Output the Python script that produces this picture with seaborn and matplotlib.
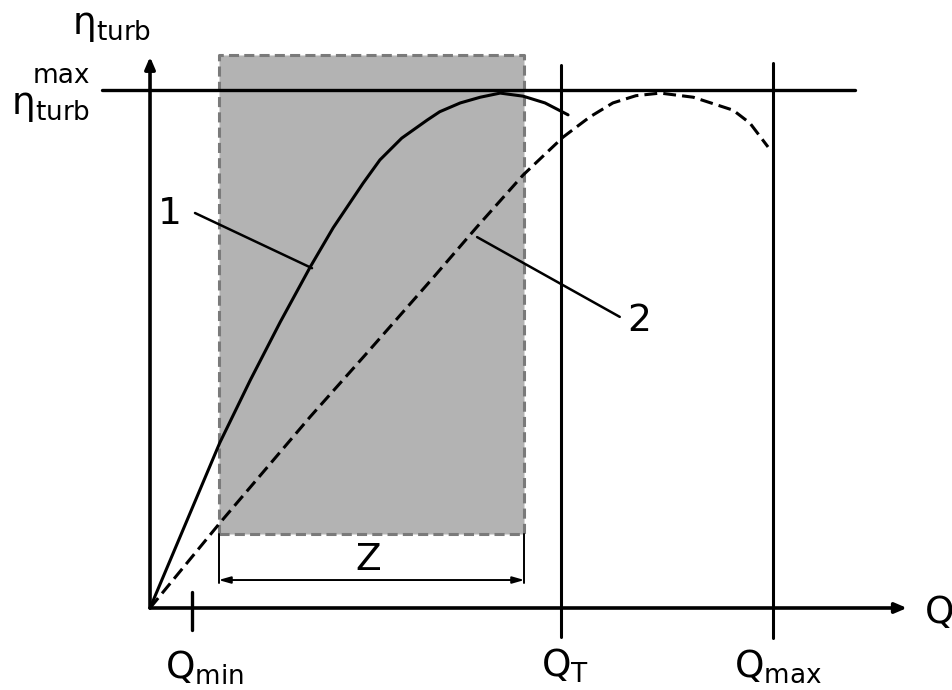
import matplotlib
matplotlib.use("Agg")
import matplotlib.pyplot as plt
from matplotlib.patches import Rectangle
import seaborn as sns

sns.set_style("white")
plt.rcParams["font.family"] = ["DejaVu Sans"]
plt.rcParams["mathtext.fontset"] = "dejavusans"
plt.rcParams["text.color"] = "black"

# Flow Q normalised by Q_max, efficiency normalised by eta_max
q_min = 0.067
q_t = 0.660
q_max = 1.0
eta_max = 1.0
zone = (0.110, 0.601)          # Q range of the operating zone Z
zone_eta = (0.143, 1.068)      # vertical extent of the shaded zone

# Curve 1: turbine sized for Q_T
q1 = [0.0, 0.112, 0.161, 0.209, 0.257, 0.294, 0.342, 0.369, 0.404,
      0.445, 0.465, 0.498, 0.530, 0.562, 0.599, 0.634, 0.671]
eta1 = [0.0, 0.319, 0.440, 0.552, 0.658, 0.734, 0.820, 0.865, 0.907,
        0.942, 0.958, 0.975, 0.986, 0.994, 0.988, 0.975, 0.952]

# Curve 2: turbine sized for Q_max
q2 = [0.0, 0.112, 0.257, 0.348, 0.454, 0.525, 0.599, 0.663, 0.706,
      0.743, 0.780, 0.819, 0.872, 0.936, 0.963, 0.992]
eta2 = [0.0, 0.164, 0.369, 0.492, 0.637, 0.736, 0.836, 0.909, 0.948,
        0.975, 0.989, 0.994, 0.986, 0.961, 0.936, 0.890]

fig = plt.figure(figsize=(9.53, 6.90), dpi=100)
ax = fig.add_axes([0, 0, 1, 1])
ax.set_xlim(-0.2408, 1.2889)
ax.set_ylim(-0.1583, 1.1737)
ax.axis("off")

# shaded operating zone
ax.add_patch(Rectangle((zone[0], zone_eta[0]), zone[1] - zone[0],
                       zone_eta[1] - zone_eta[0],
                       facecolor="#b3b3b3", edgecolor="#7a7a7a",
                       lw=2.2, linestyle=(0, (3.3, 1.7)),
                       joinstyle="round", zorder=1))

# axes with arrow heads
ax.annotate("", xy=(1.215, 0), xytext=(0, 0),
            arrowprops=dict(arrowstyle="-|>,head_length=0.7,head_width=0.3",
                            lw=2.6, color="black", shrinkA=0, shrinkB=0),
            zorder=4)
ax.annotate("", xy=(0, 1.064), xytext=(0, 0),
            arrowprops=dict(arrowstyle="-|>,head_length=0.7,head_width=0.3",
                            lw=2.6, color="black", shrinkA=0, shrinkB=0),
            zorder=4)

# eta_max level and characteristic flows
ax.plot([-0.077, 1.132], [eta_max, eta_max], color="black", lw=2.4, zorder=3)
ax.plot([q_t, q_t], [-0.056, 1.048], color="black", lw=2.2, zorder=3)
ax.plot([q_max, q_max], [-0.058, 1.052], color="black", lw=2.2, zorder=3)
ax.plot([q_min, q_min], [-0.042, 0.031], color="black", lw=2.4, zorder=3)

# efficiency curves
sns.lineplot(x=q1, y=eta1, ax=ax, color="black", lw=2.2, zorder=5,
             sort=False, estimator=None)
ax.lines[-1].set_solid_joinstyle("round")
sns.lineplot(x=q2, y=eta2, ax=ax, color="black", lw=2.2, zorder=5,
             sort=False, estimator=None)
ax.lines[-1].set_dashes((4.2, 2))
ax.lines[-1].set_dash_joinstyle("round")

# leader lines
ax.plot([0.0722, 0.260], [0.7625, 0.656], color="black", lw=1.8, zorder=5)
ax.plot([0.525, 0.754], [0.716, 0.562], color="black", lw=1.8, zorder=5)

# zone dimension
ax.plot([zone[0], zone[0]], [0.048, zone_eta[0]], color="black", lw=1.4, zorder=5)
ax.plot([zone[1], zone[1]], [0.048, zone_eta[0]], color="black", lw=1.4, zorder=5)
ax.annotate("", xy=(zone[1], 0.054), xytext=(zone[0], 0.054),
            arrowprops=dict(arrowstyle="<|-|>,head_length=0.7,head_width=0.2",
                            lw=1.4, color="black", shrinkA=0, shrinkB=0),
            zorder=5)

fs = 27
ax.text(0.350, 0.093, "Z", fontsize=fs, ha="center", va="center")
ax.text(0.032, 0.761, "1", fontsize=fs, ha="center", va="center")
ax.text(0.785, 0.554, "2", fontsize=fs, ha="center", va="center")
ax.text(1.268, -0.010, "Q", fontsize=fs, ha="center", va="center")
ax.text(0.087, -0.116, r"$\mathregular{Q_{min}}$", fontsize=fs, ha="center", va="center")
ax.text(0.666, -0.112, r"$\mathregular{Q_{T}}$", fontsize=fs, ha="center", va="center")
ax.text(1.008, -0.112, r"$\mathregular{Q_{max}}$", fontsize=fs, ha="center", va="center")
ax.text(-0.061, 1.124, r"$\mathregular{η_{turb}}$", fontsize=fs, ha="center", va="center")
ax.text(-0.096, 1.027, "max", fontsize=19, ha="right", va="center")
ax.text(-0.096, 0.970, r"$\mathregular{η_{turb}}$", fontsize=fs, ha="right", va="center")

fig.savefig("out.png", dpi=100)
